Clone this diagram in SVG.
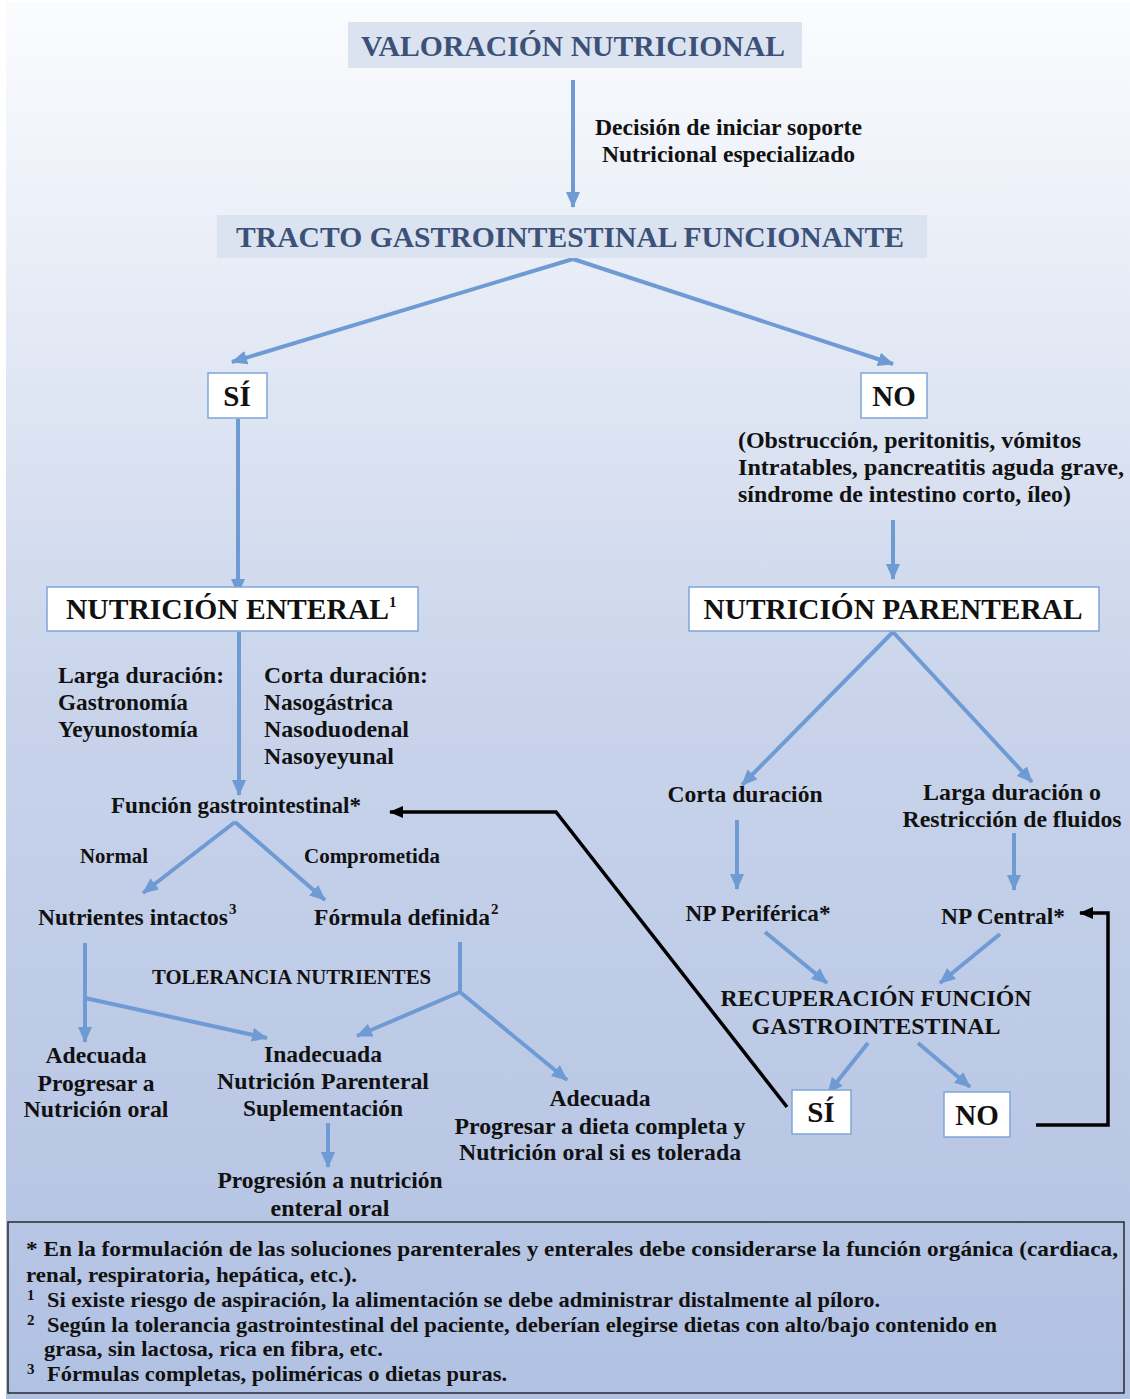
<svg xmlns="http://www.w3.org/2000/svg" width="1130" height="1399" viewBox="0 0 1130 1399">
  <defs>
    <linearGradient id="bg" x1="0" y1="0" x2="0" y2="1">
      <stop offset="0" stop-color="#fbfcfe"/>
      <stop offset="0.2" stop-color="#e7ecf6"/>
      <stop offset="0.5" stop-color="#c9d4eb"/>
      <stop offset="1" stop-color="#b1c1e2"/>
    </linearGradient>
    <marker id="ab" viewBox="0 0 16 14" refX="15" refY="7" markerWidth="16" markerHeight="14" markerUnits="userSpaceOnUse" orient="auto">
      <path d="M0,0 L16,7 L0,14 Z" fill="#6f9bd4"/>
    </marker>
    <marker id="ak" viewBox="0 0 14 12" refX="13" refY="6" markerWidth="14" markerHeight="12" markerUnits="userSpaceOnUse" orient="auto">
      <path d="M0,0 L14,6 L0,12 Z" fill="#000"/>
    </marker>
  </defs>
  <style>
    text { font-family: "Liberation Serif", "Times New Roman", serif; font-weight: bold; fill: #111; }
    .h { fill: #3b5178; font-size: 30px; }
    .b { font-size: 23.5px; }
    .s { font-size: 20.5px; }
    .f { font-size: 21px; }
    .big { font-size: 29px; }
    .sup { font-size: 15px; }
    .box { fill: #ffffff; stroke: #7fa5d8; stroke-width: 1.5; }
    .hb { fill: #dbe3f0; }
    .c { fill: none; stroke: #6f9bd4; stroke-width: 4; marker-end: url(#ab); }
    .cn { fill: none; stroke: #6f9bd4; stroke-width: 4; }
    .k { fill: none; stroke: #000; stroke-width: 3.5; marker-end: url(#ak); }
    .m { text-anchor: middle; }
  </style>

  <rect x="0" y="0" width="1130" height="1399" fill="#ffffff"/>
  <rect x="6" y="2" width="1124" height="1397" fill="url(#bg)"/>

  <!-- connectors -->
  <g id="connectors">
    <path class="c" d="M573,80 L573,207"/>
    <path class="c" d="M573,259 L232,362"/>
    <path class="c" d="M573,259 L893,364"/>
    <path class="c" d="M238,419 L238,594"/>
    <path class="c" d="M893,520 L893,579"/>
    <path class="c" d="M239,632 L239,795"/>
    <path class="c" d="M235,822 L143,893"/>
    <path class="c" d="M235,822 L325,900"/>
    <path class="c" d="M85,943 L85,1042"/>
    <path class="c" d="M85,998 L267,1038"/>
    <path class="cn" d="M460,942 L460,992"/>
    <path class="c" d="M460,992 L357,1036"/>
    <path class="c" d="M460,992 L567,1080"/>
    <path class="c" d="M328,1123 L328,1167"/>
    <path class="c" d="M893,632 L742,785"/>
    <path class="c" d="M893,632 L1032,782"/>
    <path class="c" d="M737,820 L737,889"/>
    <path class="c" d="M1014,833 L1014,890"/>
    <path class="c" d="M765,932 L827,983"/>
    <path class="c" d="M1000,934 L940,983"/>
    <path class="c" d="M868,1043 L828,1093"/>
    <path class="c" d="M918,1043 L970,1087"/>
    <path class="k" d="M787,1107 L556,812 L390,812"/>
    <path class="k" d="M1036,1125 L1108,1125 L1108,913 L1080,913"/>
  </g>

  <g id="valoracion">
    <rect class="hb" x="348" y="22" width="454" height="46"/>
    <text class="h m" x="573" y="56" textLength="424" lengthAdjust="spacingAndGlyphs">VALORACIÓN NUTRICIONAL</text>
  </g>

  <g id="decision">
    <text class="b" x="595" y="135" textLength="267" lengthAdjust="spacingAndGlyphs">Decisión de iniciar soporte</text>
    <text class="b" x="602" y="162" textLength="253" lengthAdjust="spacingAndGlyphs">Nutricional especializado</text>
  </g>

  <g id="tracto">
    <rect class="hb" x="217" y="215" width="710" height="43"/>
    <text class="h m" x="570" y="247" textLength="668" lengthAdjust="spacingAndGlyphs">TRACTO GASTROINTESTINAL FUNCIONANTE</text>
  </g>

  <g id="si-1">
    <rect class="box" x="208" y="373" width="59" height="45"/>
    <text class="big m" x="237" y="406">SÍ</text>
  </g>

  <g id="no-1">
    <rect class="box" x="861" y="373" width="66" height="45"/>
    <text class="big m" x="894" y="406">NO</text>
  </g>

  <g id="causas">
    <text class="b" x="738" y="448" textLength="343" lengthAdjust="spacingAndGlyphs">(Obstrucción, peritonitis, vómitos</text>
    <text class="b" x="738" y="475" textLength="386" lengthAdjust="spacingAndGlyphs">Intratables, pancreatitis aguda grave,</text>
    <text class="b" x="738" y="502" textLength="333" lengthAdjust="spacingAndGlyphs">síndrome de intestino corto, íleo)</text>
  </g>

  <g id="nutricion-enteral">
    <rect class="box" x="47" y="587" width="371" height="44"/>
    <text class="big" x="66" y="619" textLength="323" lengthAdjust="spacingAndGlyphs">NUTRICIÓN ENTERAL</text>
    <text class="sup" x="389" y="607">1</text>
  </g>

  <g id="nutricion-parenteral">
    <rect class="box" x="689" y="587" width="410" height="44"/>
    <text class="big m" x="893" y="619" textLength="379" lengthAdjust="spacingAndGlyphs">NUTRICIÓN PARENTERAL</text>
  </g>

  <g id="larga-duracion">
    <text class="b" x="58" y="683" textLength="166" lengthAdjust="spacingAndGlyphs">Larga duración:</text>
    <text class="b" x="58" y="710" textLength="130" lengthAdjust="spacingAndGlyphs">Gastronomía</text>
    <text class="b" x="58" y="737" textLength="140" lengthAdjust="spacingAndGlyphs">Yeyunostomía</text>
  </g>

  <g id="corta-duracion-en">
    <text class="b" x="264" y="683" textLength="164" lengthAdjust="spacingAndGlyphs">Corta duración:</text>
    <text class="b" x="264" y="710" textLength="129" lengthAdjust="spacingAndGlyphs">Nasogástrica</text>
    <text class="b" x="264" y="737" textLength="145" lengthAdjust="spacingAndGlyphs">Nasoduodenal</text>
    <text class="b" x="264" y="764" textLength="130" lengthAdjust="spacingAndGlyphs">Nasoyeyunal</text>
  </g>

  <g id="funcion-gi">
    <text class="b" x="111" y="813" textLength="250" lengthAdjust="spacingAndGlyphs">Función gastrointestinal*</text>
  </g>

  <g id="labels-funcion">
    <text class="s" x="80" y="863" textLength="68" lengthAdjust="spacingAndGlyphs">Normal</text>
    <text class="s" x="304" y="863" textLength="136" lengthAdjust="spacingAndGlyphs">Comprometida</text>
  </g>

  <g id="nutrientes-intactos">
    <text class="b" x="38" y="925" textLength="190" lengthAdjust="spacingAndGlyphs">Nutrientes intactos</text>
    <text class="sup" x="229" y="914">3</text>
  </g>

  <g id="formula-definida">
    <text class="b" x="314" y="925" textLength="176" lengthAdjust="spacingAndGlyphs">Fórmula definida</text>
    <text class="sup" x="491" y="914">2</text>
  </g>

  <g id="tolerancia">
    <text class="s" x="152" y="984" textLength="279" lengthAdjust="spacingAndGlyphs">TOLERANCIA NUTRIENTES</text>
  </g>

  <g id="adecuada-oral">
    <text class="b m" x="96" y="1063" textLength="101" lengthAdjust="spacingAndGlyphs">Adecuada</text>
    <text class="b m" x="96" y="1091" textLength="117" lengthAdjust="spacingAndGlyphs">Progresar a</text>
    <text class="b m" x="96" y="1117" textLength="145" lengthAdjust="spacingAndGlyphs">Nutrición oral</text>
  </g>

  <g id="inadecuada">
    <text class="b m" x="323" y="1062" textLength="118" lengthAdjust="spacingAndGlyphs">Inadecuada</text>
    <text class="b m" x="323" y="1089" textLength="212" lengthAdjust="spacingAndGlyphs">Nutrición Parenteral</text>
    <text class="b m" x="323" y="1116" textLength="160" lengthAdjust="spacingAndGlyphs">Suplementación</text>
  </g>

  <g id="progresion">
    <text class="b m" x="330" y="1188" textLength="225" lengthAdjust="spacingAndGlyphs">Progresión a nutrición</text>
    <text class="b m" x="330" y="1216" textLength="119" lengthAdjust="spacingAndGlyphs">enteral oral</text>
  </g>

  <g id="adecuada-dieta">
    <text class="b m" x="600" y="1106" textLength="101" lengthAdjust="spacingAndGlyphs">Adecuada</text>
    <text class="b m" x="600" y="1134" textLength="291" lengthAdjust="spacingAndGlyphs">Progresar a dieta completa y</text>
    <text class="b m" x="600" y="1160" textLength="282" lengthAdjust="spacingAndGlyphs">Nutrición oral si es tolerada</text>
  </g>

  <g id="corta-duracion-np">
    <text class="b m" x="745" y="802" textLength="155" lengthAdjust="spacingAndGlyphs">Corta duración</text>
  </g>

  <g id="larga-duracion-np">
    <text class="b m" x="1012" y="800" textLength="178" lengthAdjust="spacingAndGlyphs">Larga duración o</text>
    <text class="b m" x="1012" y="827" textLength="219" lengthAdjust="spacingAndGlyphs">Restricción de fluidos</text>
  </g>

  <g id="np-periferica">
    <text class="b m" x="758" y="921" textLength="145" lengthAdjust="spacingAndGlyphs">NP Periférica*</text>
  </g>

  <g id="np-central">
    <text class="b m" x="1003" y="924" textLength="124" lengthAdjust="spacingAndGlyphs">NP Central*</text>
  </g>

  <g id="recuperacion">
    <text class="b m" x="876" y="1006" textLength="311" lengthAdjust="spacingAndGlyphs">RECUPERACIÓN FUNCIÓN</text>
    <text class="b m" x="876" y="1034" textLength="249" lengthAdjust="spacingAndGlyphs">GASTROINTESTINAL</text>
  </g>

  <g id="si-2">
    <rect class="box" x="792" y="1090" width="59" height="44"/>
    <text class="big m" x="821" y="1122">SÍ</text>
  </g>

  <g id="no-2">
    <rect class="box" x="944" y="1092" width="66" height="45"/>
    <text class="big m" x="977" y="1125">NO</text>
  </g>

  <g id="notas">
    <rect x="8" y="1222" width="1116" height="171" fill="none" stroke="#2a2a2a" stroke-width="1.5"/>
    <text class="f" x="26" y="1256" textLength="1092" lengthAdjust="spacingAndGlyphs">* En la formulación de las soluciones parenterales y enterales debe considerarse la función orgánica (cardiaca,</text>
    <text class="f" x="26" y="1282" textLength="331" lengthAdjust="spacingAndGlyphs">renal, respiratoria, hepática, etc.).</text>
    <text class="sup" x="27" y="1300">1</text>
    <text class="f" x="47" y="1307" textLength="833" lengthAdjust="spacingAndGlyphs">Si existe riesgo de aspiración, la alimentación se debe administrar distalmente al píloro.</text>
    <text class="sup" x="27" y="1325">2</text>
    <text class="f" x="47" y="1332" textLength="950" lengthAdjust="spacingAndGlyphs">Según la tolerancia gastrointestinal del paciente, deberían elegirse dietas con alto/bajo contenido en</text>
    <text class="f" x="44" y="1356" textLength="339" lengthAdjust="spacingAndGlyphs">grasa, sin lactosa, rica en fibra, etc.</text>
    <text class="sup" x="27" y="1374">3</text>
    <text class="f" x="47" y="1381" textLength="460" lengthAdjust="spacingAndGlyphs">Fórmulas completas, poliméricas o dietas puras.</text>
  </g>
</svg>
